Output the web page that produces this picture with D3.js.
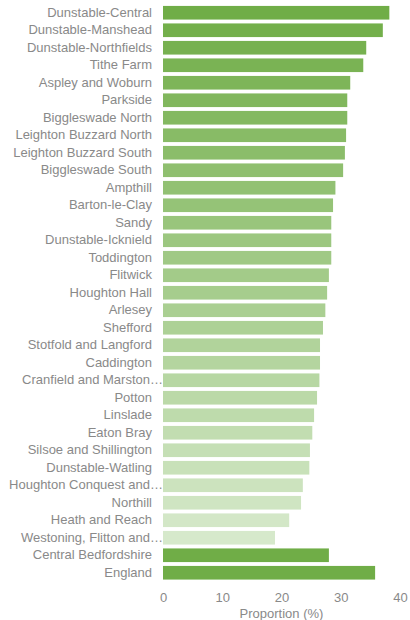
<!DOCTYPE html>
<html>
<head>
<meta charset="utf-8">
<script src="https://cdn.jsdelivr.net/npm/d3@7"></script>
<style>
  body { margin: 0; background: #fff; }
  text { font-family: "Liberation Sans", Arial, sans-serif; }
</style>
</head>
<body>
<div id="chart"></div>
<script>
// wards, sorted high to low, then the two comparators
const wards = ["Dunstable-Central", "Dunstable-Manshead", "Dunstable-Northfields", "Tithe Farm",
  "Aspley and Woburn", "Parkside", "Biggleswade North", "Leighton Buzzard North",
  "Leighton Buzzard South", "Biggleswade South", "Ampthill", "Barton-le-Clay", "Sandy",
  "Dunstable-Icknield", "Toddington", "Flitwick", "Houghton Hall", "Arlesey", "Shefford",
  "Stotfold and Langford", "Caddington", "Cranfield and Marston…", "Potton", "Linslade",
  "Eaton Bray", "Silsoe and Shillington", "Dunstable-Watling", "Houghton Conquest and…",
  "Northill", "Heath and Reach", "Westoning, Flitton and…"];
const wardValues = [38.2, 37.1, 34.3, 33.8, 31.6, 31.1, 31.1, 30.9, 30.7, 30.4, 29.1, 28.7, 28.4,
  28.4, 28.4, 28.0, 27.7, 27.4, 27.0, 26.5, 26.5, 26.4, 26.0, 25.5, 25.2, 24.8, 24.7, 23.6,
  23.3, 21.3, 18.9];
const comparators = ["Central Bedfordshire", "England"];
const comparatorValues = [28.0, 35.8];
const xTicks = [0, 10, 20, 30, 40];

const widthValue = 410;
const heightValue = 620;
const margin = { left: 163, right: 10 };

const rows = wards.map((name, i) => ({ name, value: wardValues[i], ward: true, rank: i }))
  .concat(comparators.map((name, i) => ({ name, value: comparatorValues[i], ward: false })));

const svg = d3.select("#chart")
  .append("svg")
  .attr("width", widthValue)
  .attr("height", heightValue);

const xScale = d3.scaleLinear()
  .domain([0, 40])
  .range([margin.left, 400]);

const yScale = d3.scaleBand()
  .domain(rows.map(d => d.name))
  .range([4, 581.5])
  .paddingInner(0.22)
  .paddingOuter(0.11);

// shade wards from dark to light by rank
const shade = d3.scaleLinear()
  .domain([0, wards.length - 1])
  .range(["#70ad47", "#d6e9cb"])
  .interpolate(d3.interpolateRgb);

svg.append("g")
  .selectAll("rect")
  .data(rows)
  .enter()
  .append("rect")
    .attr("x", xScale(0))
    .attr("y", d => yScale(d.name))
    .attr("width", d => xScale(d.value) - xScale(0))
    .attr("height", yScale.bandwidth())
    .attr("fill", d => d.ward ? shade(d.rank) : "#70ad47");

// category labels
const yAxis = svg.append("g")
  .attr("transform", `translate(${margin.left - 11}, 0)`)
  .call(d3.axisLeft(yScale).tickSize(0).tickPadding(0));
yAxis.select(".domain").remove();
yAxis.selectAll("text")
  .attr("fill", "#898989")
  .style("font-size", "13px")
  .style("font-family", "Liberation Sans, Arial, sans-serif");
// truncated labels run right up to the bars
yAxis.selectAll("text")
  .filter(d => d.endsWith("…"))
  .attr("x", 11);

// value axis
const xAxis = svg.append("g")
  .attr("transform", "translate(0, 590)")
  .call(d3.axisBottom(xScale).tickValues(xTicks).tickSize(0).tickPadding(3));
xAxis.select(".domain").remove();
xAxis.selectAll("text")
  .attr("fill", "#898989")
  .style("font-size", "13px")
  .style("font-family", "Liberation Sans, Arial, sans-serif");

svg.append("text")
  .attr("x", (xScale(0) + xScale(40)) / 2)
  .attr("y", 618)
  .attr("text-anchor", "middle")
  .attr("fill", "#898989")
  .style("font-size", "13px")
  .text("Proportion (%)");
</script>
</body>
</html>
